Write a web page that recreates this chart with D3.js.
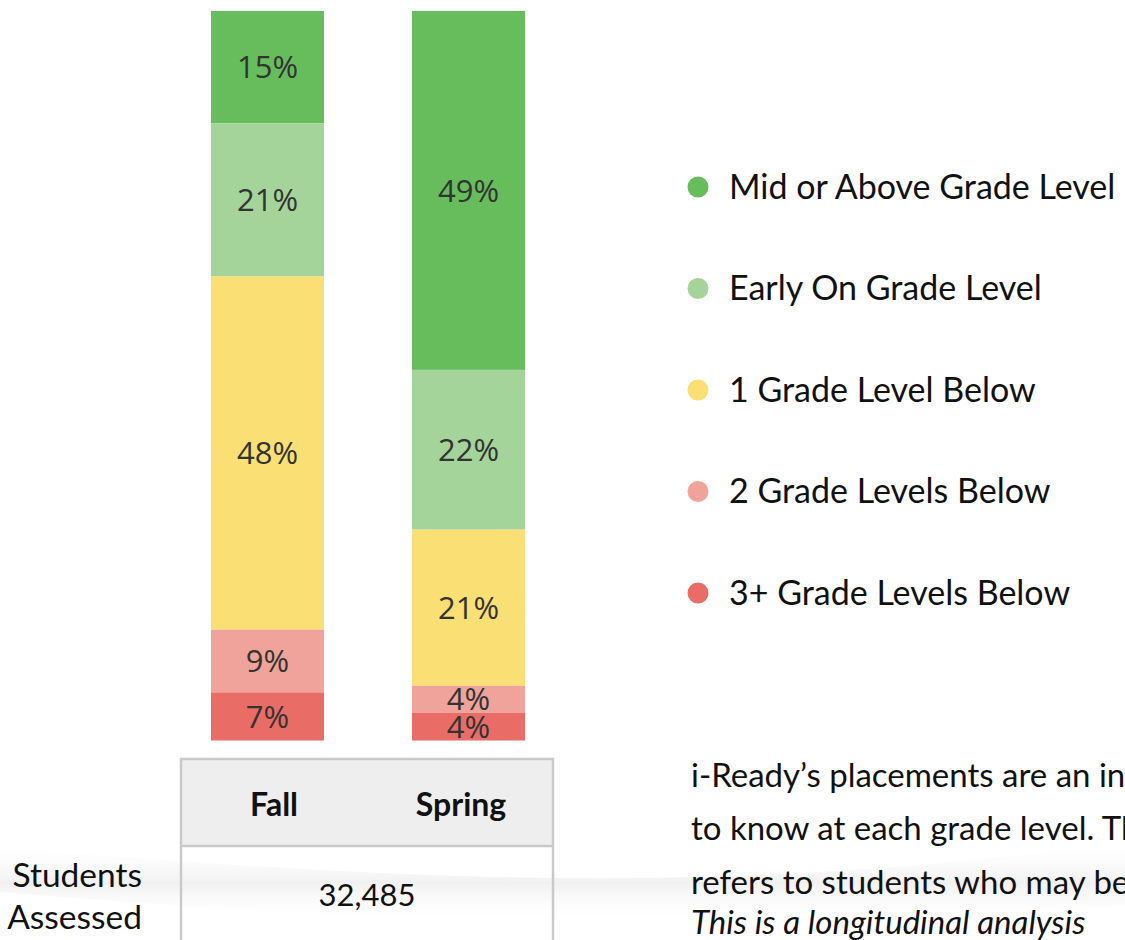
<!DOCTYPE html>
<html>
<head>
<meta charset="utf-8">
<script src="https://cdn.jsdelivr.net/npm/d3@7"></script>
<style>
  html, body { margin: 0; padding: 0; background: #fff; overflow: hidden; }
  svg { display: block; }
</style>
</head>
<body>
<svg id="chart" width="1125" height="940"></svg>
<script>
// Placement categories, top of the stack first
const categories = [
  'Mid or Above Grade Level',
  'Early On Grade Level',
  '1 Grade Level Below',
  '2 Grade Levels Below',
  '3+ Grade Levels Below'
];
const colors = ['#67bd5c', '#a4d49a', '#fadf74', '#f0a39a', '#e96d66'];

const terms = ['Fall', 'Spring'];
// percent of students per category (same order as categories)
const fallValues = [15.4, 21.0, 48.4, 8.6, 6.6];
const springValues = [49.2, 21.9, 21.4, 3.7, 3.8];

const studentsAssessed = '32,485';
const noteLines = [
  'i-Ready\u2019s placements are an indication of what students need',
  'to know at each grade level. The \u201cBelow\u201d placement',
  'refers to students who may be performing below grade level.'
];
const noteItalic = 'This is a longitudinal analysis';

const svg = d3.select('#chart');

// faint background swoosh
const defs = svg.append('defs');
const grad = defs.append('linearGradient')
  .attr('id', 'swoosh')
  .attr('x1', 0).attr('y1', 0).attr('x2', 0).attr('y2', 1);
grad.append('stop').attr('offset', '0%').attr('stop-color', '#ffffff').attr('stop-opacity', 0);
grad.append('stop').attr('offset', '50%').attr('stop-color', '#ececec').attr('stop-opacity', 0.75);
grad.append('stop').attr('offset', '100%').attr('stop-color', '#ffffff').attr('stop-opacity', 0);

svg.append('path')
  .attr('d', 'M 0 848 C 400 878, 700 900, 1125 842 L 1125 905 C 700 935, 400 925, 0 892 Z')
  .attr('fill', 'url(#swoosh)');

// Scales
const x = d3.scaleBand()
  .domain(terms)
  .range([211, 525])
  .paddingInner(0.438)
  .paddingOuter(0);

const y = d3.scaleLinear()
  .domain([0, 100])
  .range([11, 740.5]);

const stackData = terms.map((t, i) => {
  const vals = i === 0 ? fallValues : springValues;
  let acc = 0;
  return vals.map((v, j) => {
    const seg = { term: t, cat: categories[j], idx: j, y0: acc, y1: acc + v, v };
    acc += v;
    return seg;
  });
}).flat();

const barGroup = svg.append('g').attr('class', 'bars');

barGroup.selectAll('rect.seg')
  .data(stackData)
  .join('rect')
  .attr('class', 'seg')
  .attr('x', d => x(d.term))
  .attr('y', d => y(d.y0))
  .attr('width', x.bandwidth())
  .attr('height', d => y(d.y1) - y(d.y0))
  .attr('fill', d => colors[d.idx]);

barGroup.selectAll('text.seg-label')
  .data(stackData)
  .join('text')
  .attr('class', 'seg-label')
  .attr('x', d => x(d.term) + x.bandwidth() / 2)
  .attr('y', d => (y(d.y0) + y(d.y1)) / 2)
  .attr('dy', '0.36em')
  .attr('text-anchor', 'middle')
  .attr('font-family', '"Open Sans", sans-serif')
  .attr('font-size', 31)
  .attr('fill', '#333')
  .text(d => Math.round(d.v) + '%');

// Legend
const legend = svg.append('g').attr('class', 'legend');
const legendY = d3.scalePoint().domain(categories).range([187, 593]);

legend.selectAll('circle')
  .data(categories)
  .join('circle')
  .attr('cx', 698)
  .attr('cy', d => legendY(d))
  .attr('r', 10.5)
  .attr('fill', (d, i) => colors[i]);

legend.selectAll('text')
  .data(categories)
  .join('text')
  .attr('x', 729)
  .attr('y', d => legendY(d))
  .attr('dy', '0.35em')
  .attr('font-family', 'Lato, sans-serif')
  .attr('font-size', 34)
  .attr('fill', '#111')
  .text(d => d);

// Table below the bars
const table = svg.append('g').attr('class', 'table');
const tLeft = 181, tRight = 553, tTop = 759, tMid = 846, tBottom = 945;

table.append('rect')
  .attr('x', tLeft).attr('y', tTop)
  .attr('width', tRight - tLeft).attr('height', tMid - tTop)
  .attr('fill', '#eeeeee');

table.append('path')
  .attr('d', `M${tLeft},${tBottom} V${tTop} H${tRight} V${tBottom} M${tLeft},${tMid} H${tRight}`)
  .attr('fill', 'none')
  .attr('stroke', '#c9c9c9')
  .attr('stroke-width', 2.5);

const headX = { Fall: 274, Spring: 461 };
table.selectAll('text.head')
  .data(terms)
  .join('text')
  .attr('class', 'head')
  .attr('x', d => headX[d])
  .attr('y', 805)
  .attr('dy', '0.35em')
  .attr('text-anchor', 'middle')
  .attr('font-family', 'Lato, sans-serif')
  .attr('font-weight', 'bold')
  .attr('font-size', 32)
  .attr('fill', '#111')
  .text(d => d);

table.append('text')
  .attr('x', (tLeft + tRight) / 2)
  .attr('y', 895)
  .attr('dy', '0.35em')
  .attr('text-anchor', 'middle')
  .attr('font-family', 'Lato, sans-serif')
  .attr('font-size', 31)
  .attr('fill', '#111')
  .text(studentsAssessed);

svg.append('g')
  .selectAll('text')
  .data(['Students', 'Assessed'])
  .join('text')
  .attr('x', 142)
  .attr('y', (d, i) => 875 + i * 42)
  .attr('dy', '0.35em')
  .attr('text-anchor', 'end')
  .attr('font-family', 'Lato, sans-serif')
  .attr('font-size', 33.5)
  .attr('fill', '#111')
  .text(d => d);

// Note text on the bottom right (runs off the edge, as in the original slide)
const note = svg.append('g').attr('class', 'note');
note.selectAll('text.line')
  .data(noteLines)
  .join('text')
  .attr('class', 'line')
  .attr('x', 691)
  .attr('y', (d, i) => 775 + i * 53.5)
  .attr('dy', '0.35em')
  .attr('font-family', 'Lato, sans-serif')
  .attr('font-size', 33)
  .attr('fill', '#111')
  .text(d => d);

note.append('text')
  .attr('x', 691)
  .attr('y', 922)
  .attr('dy', '0.35em')
  .attr('font-family', 'Lato, sans-serif')
  .attr('font-style', 'italic')
  .attr('font-size', 33)
  .attr('fill', '#111')
  .text(noteItalic);
</script>
</body>
</html>
